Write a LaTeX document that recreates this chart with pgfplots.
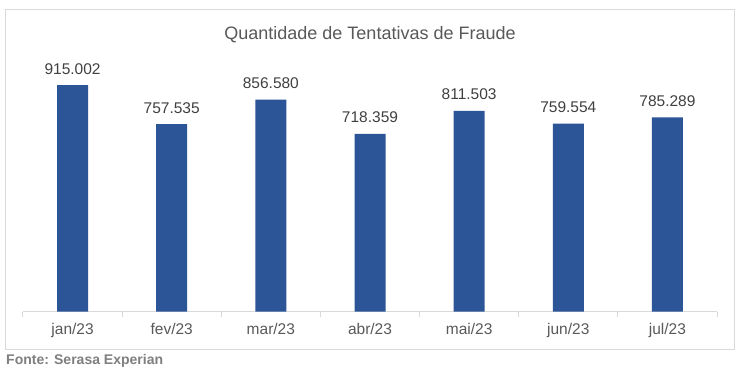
\documentclass[border=0pt]{standalone}
\usepackage{pgfplots}
\pgfplotsset{compat=1.18}
\usepackage{pgfplotstable}
\usepackage{fontspec}
\setmainfont{Liberation Sans}
\definecolor{barblue}{HTML}{2B5597}
\definecolor{titlegray}{HTML}{595959}
\definecolor{lblgray}{HTML}{404040}
\definecolor{linegray}{HTML}{D9D9D9}
\definecolor{srcgray}{HTML}{7F7F7F}
\pgfplotstableread{
x value label
0 915002 915.002
1 757535 757.535
2 856580 856.580
3 718359 718.359
4 811503 811.503
5 759554 759.554
6 785289 785.289
}\fraudes
\begin{document}
\begin{tikzpicture}[x=1pt,y=1pt]
\path[use as bounding box, fill=white] (0,0) rectangle (742,372);
\draw[linegray, line width=1pt] (5,362.5) rectangle (734.5,22);
\node[anchor=base, font=\fontsize{18}{21}\selectfont, text=titlegray] at (370,332.5) {Quantidade de Tentativas de Fraude};
\node[anchor=base west, inner sep=0pt, font=\fontsize{14}{16}\selectfont\bfseries, text=srcgray] at (6,7.5) {Fonte: Serasa Experian};
\begin{axis}[
  at={(23pt,60.3pt)}, anchor=south west,
  scale only axis, width=694pt, height=247.5pt,
  ymin=0, ymax=1000000, xmin=-0.5, xmax=6.5,
  hide y axis,
  axis x line*=bottom,
  axis line style={linegray, line width=1pt},
  x axis line style={-},
  xtick={0,...,6},
  xticklabels={jan/23,fev/23,mar/23,abr/23,mai/23,jun/23,jul/23},
  major tick length=0pt,
  minor xtick={-0.5,0.5,...,6.5},
  minor tick length=5pt,
  tick align=outside,
  minor tick style={linegray, line width=1pt},
  xticklabel style={anchor=base, yshift=-23.3pt, font=\fontsize{15.5}{18}\selectfont, text=titlegray},
  ybar, bar width=31pt,
  clip=false,
  point meta=explicit symbolic,
  nodes near coords,
  nodes near coords style={anchor=base, yshift=11pt, font=\fontsize{15.5}{18}\selectfont, text=lblgray},
]
\addplot[fill=barblue, draw=none] table[x=x, y=value, meta=label] {\fraudes};
\end{axis}
\end{tikzpicture}
\end{document}
